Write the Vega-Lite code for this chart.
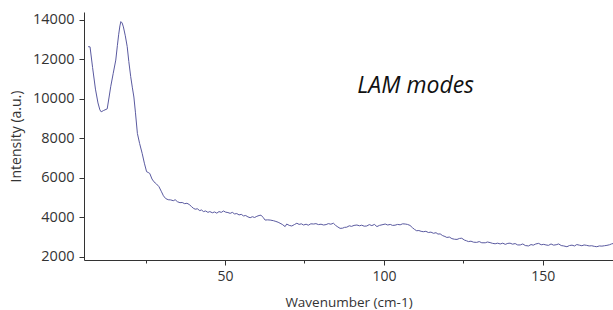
{
  "$schema": "https://vega.github.io/schema/vega-lite/v6.json",
  "width": 529,
  "height": 248,
  "autosize": "none",
  "padding": {"left": 84, "top": 12, "right": 0, "bottom": 50},
  "background": "white",
  "config": {
    "view": {"stroke": null},
    "axis": {"labelFont": "Open Sans", "titleFont": "Open Sans", "labelColor": "#333333", "titleColor": "#333333", "domainColor": "#333333", "tickColor": "#333333", "titleFontWeight": "normal", "grid": false}
  },
  "datasets": {
    "spectrum": [
      {"w":6.9,"i":12650},{"w":7.5,"i":12640},{"w":8.3,"i":11600},{"w":9.2,"i":10500},{"w":10.0,"i":9800},{"w":10.6,"i":9450},{"w":11.0,"i":9350},{"w":11.8,"i":9420},{"w":12.9,"i":9500},{"w":13.5,"i":10100},{"w":14.0,"i":10620},{"w":14.8,"i":11300},{"w":15.6,"i":11970},{"w":16.1,"i":12700},{"w":16.5,"i":13250},{"w":16.9,"i":13700},{"w":17.2,"i":13920},{"w":17.6,"i":13850},{"w":18.0,"i":13650},{"w":18.6,"i":13200},{"w":19.2,"i":12650},{"w":19.7,"i":11900},{"w":20.3,"i":11130},{"w":20.8,"i":10600},{"w":21.3,"i":10100},{"w":21.8,"i":9300},{"w":22.4,"i":8260},{"w":23.1,"i":7750},{"w":23.9,"i":7250},{"w":24.6,"i":6750},{"w":25.3,"i":6320},{"w":25.8,"i":6280},{"w":26.3,"i":6230},{"w":27.0,"i":5950},{"w":27.6,"i":5810},{"w":28.4,"i":5700},{"w":29.2,"i":5560},{"w":30.0,"i":5300},{"w":30.6,"i":5100},{"w":31.3,"i":4960},{"w":32.1,"i":4900},{"w":32.9,"i":4890},{"w":33.7,"i":4850},{"w":34.3,"i":4900},{"w":35.0,"i":4800},{"w":35.8,"i":4750},{"w":36.5,"i":4760},{"w":37.3,"i":4700},{"w":38.0,"i":4720},{"w":38.7,"i":4660},{"w":39.4,"i":4560},{"w":40.0,"i":4470},{"w":40.6,"i":4420},{"w":41.3,"i":4440},{"w":42.0,"i":4350},{"w":42.6,"i":4380},{"w":43.2,"i":4300},{"w":43.9,"i":4330},{"w":44.6,"i":4260},{"w":45.2,"i":4300},{"w":46.0,"i":4240},{"w":46.7,"i":4280},{"w":47.4,"i":4220},{"w":48.1,"i":4300},{"w":48.8,"i":4260},{"w":49.5,"i":4330},{"w":50.2,"i":4270},{"w":50.9,"i":4250},{"w":51.6,"i":4210},{"w":52.3,"i":4260},{"w":53.0,"i":4180},{"w":53.7,"i":4200},{"w":54.4,"i":4130},{"w":55.1,"i":4160},{"w":55.8,"i":4080},{"w":56.5,"i":4100},{"w":57.2,"i":4030},{"w":57.9,"i":3990},{"w":58.6,"i":4040},{"w":59.3,"i":4000},{"w":60.0,"i":4060},{"w":60.7,"i":4100},{"w":61.3,"i":4120},{"w":62.0,"i":4000},{"w":62.6,"i":3870},{"w":63.4,"i":3880},{"w":64.2,"i":3870},{"w":65.2,"i":3840},{"w":66.0,"i":3800},{"w":66.7,"i":3760},{"w":67.3,"i":3710},{"w":68.0,"i":3650},{"w":68.9,"i":3540},{"w":69.4,"i":3670},{"w":70.2,"i":3600},{"w":71.0,"i":3570},{"w":71.8,"i":3640},{"w":72.6,"i":3710},{"w":73.3,"i":3650},{"w":74.0,"i":3680},{"w":74.7,"i":3620},{"w":75.5,"i":3660},{"w":76.2,"i":3610},{"w":77.0,"i":3680},{"w":77.9,"i":3670},{"w":78.6,"i":3690},{"w":79.4,"i":3640},{"w":80.2,"i":3660},{"w":81.0,"i":3620},{"w":81.8,"i":3640},{"w":82.5,"i":3690},{"w":83.3,"i":3660},{"w":84.1,"i":3710},{"w":84.8,"i":3600},{"w":85.5,"i":3520},{"w":86.2,"i":3450},{"w":87.0,"i":3460},{"w":87.6,"i":3500},{"w":88.3,"i":3510},{"w":89.1,"i":3580},{"w":89.8,"i":3550},{"w":90.6,"i":3600},{"w":91.5,"i":3620},{"w":92.3,"i":3580},{"w":93.0,"i":3610},{"w":93.8,"i":3560},{"w":94.6,"i":3570},{"w":95.4,"i":3640},{"w":96.2,"i":3590},{"w":97.0,"i":3650},{"w":97.8,"i":3540},{"w":98.6,"i":3600},{"w":99.4,"i":3630},{"w":100.4,"i":3670},{"w":101.2,"i":3620},{"w":102.0,"i":3650},{"w":102.7,"i":3600},{"w":103.5,"i":3610},{"w":104.3,"i":3650},{"w":105.1,"i":3630},{"w":105.9,"i":3680},{"w":106.7,"i":3670},{"w":107.4,"i":3650},{"w":108.2,"i":3600},{"w":109.0,"i":3480},{"w":109.6,"i":3400},{"w":110.3,"i":3330},{"w":111.0,"i":3340},{"w":111.7,"i":3300},{"w":112.4,"i":3280},{"w":113.2,"i":3300},{"w":114.0,"i":3240},{"w":114.8,"i":3260},{"w":115.6,"i":3200},{"w":116.4,"i":3230},{"w":117.0,"i":3160},{"w":117.7,"i":3170},{"w":118.5,"i":3080},{"w":119.2,"i":3040},{"w":119.8,"i":2990},{"w":120.6,"i":3010},{"w":121.4,"i":2930},{"w":122.2,"i":2900},{"w":123.0,"i":2890},{"w":123.8,"i":2940},{"w":124.5,"i":2950},{"w":125.3,"i":2860},{"w":126.0,"i":2820},{"w":126.6,"i":2780},{"w":127.4,"i":2800},{"w":128.2,"i":2750},{"w":129.2,"i":2740},{"w":130.0,"i":2780},{"w":130.8,"i":2720},{"w":131.9,"i":2720},{"w":132.6,"i":2760},{"w":133.4,"i":2730},{"w":134.2,"i":2690},{"w":135.0,"i":2670},{"w":135.8,"i":2700},{"w":136.6,"i":2660},{"w":137.4,"i":2700},{"w":138.2,"i":2640},{"w":139.0,"i":2690},{"w":139.7,"i":2700},{"w":140.5,"i":2650},{"w":141.3,"i":2680},{"w":142.1,"i":2610},{"w":142.9,"i":2610},{"w":143.7,"i":2660},{"w":144.5,"i":2580},{"w":145.5,"i":2560},{"w":146.3,"i":2630},{"w":147.0,"i":2600},{"w":147.8,"i":2660},{"w":148.7,"i":2690},{"w":149.5,"i":2620},{"w":150.3,"i":2640},{"w":151.0,"i":2610},{"w":151.8,"i":2590},{"w":152.6,"i":2660},{"w":153.4,"i":2600},{"w":154.2,"i":2620},{"w":155.0,"i":2660},{"w":155.8,"i":2580},{"w":156.6,"i":2560},{"w":157.6,"i":2520},{"w":158.4,"i":2580},{"w":159.2,"i":2600},{"w":160.0,"i":2560},{"w":160.7,"i":2630},{"w":161.5,"i":2600},{"w":162.3,"i":2570},{"w":163.0,"i":2610},{"w":163.8,"i":2590},{"w":164.6,"i":2560},{"w":165.4,"i":2570},{"w":166.2,"i":2540},{"w":167.0,"i":2520},{"w":167.8,"i":2560},{"w":168.6,"i":2550},{"w":169.4,"i":2570},{"w":170.2,"i":2590},{"w":171.0,"i":2620},{"w":171.6,"i":2660},{"w":172.3,"i":2690}
    ],
    "note": [{"w": 91.6, "i": 10300, "label": "LAM modes"}]
  },
  "layer": [
    {
      "data": {"name": "spectrum"},
      "mark": {"type": "line", "color": "#5a5aa0", "strokeWidth": 1, "clip": true},
      "encoding": {
        "x": {"field": "w", "type": "quantitative", "scale": {"domain": [5.6, 172.1], "nice": false, "zero": false},
          "axis": {"title": "Wavenumber (cm-1)", "titleFontSize": 13.5, "titlePadding": 12, "labelFontSize": 14, "labelPadding": 4,
            "values": [25, 50, 75, 100, 125, 150], "labelExpr": "datum.value % 50 == 0 ? datum.label : ''",
            "tickSize": {"condition": {"test": "datum.value % 50 != 0", "value": 3}, "value": 5}}},
        "y": {"field": "i", "type": "quantitative", "scale": {"domain": [1848, 14405], "nice": false, "zero": false},
          "axis": {"title": "Intensity (a.u.)", "titleFontSize": 14, "titlePadding": 9, "labelFontSize": 14.5, "labelPadding": 5,
            "values": [2000, 3000, 4000, 5000, 6000, 7000, 8000, 9000, 10000, 11000, 12000, 13000, 14000], "format": "d",
            "labelExpr": "datum.value % 2000 == 0 ? datum.label : ''",
            "tickSize": {"condition": {"test": "datum.value % 2000 != 0", "value": 3}, "value": 5}}}
      }
    },
    {
      "data": {"name": "note"},
      "mark": {"type": "text", "font": "Open Sans", "fontStyle": "italic", "fontSize": 23, "align": "left", "baseline": "alphabetic", "color": "#111111"},
      "encoding": {
        "x": {"field": "w", "type": "quantitative"},
        "y": {"field": "i", "type": "quantitative"},
        "text": {"field": "label"}
      }
    }
  ]
}
